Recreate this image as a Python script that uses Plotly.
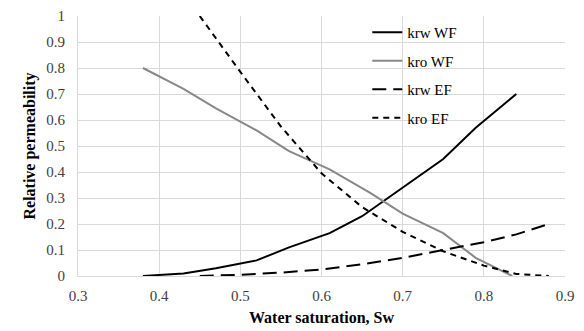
import plotly.graph_objects as go

sw_wf = [0.38, 0.43, 0.47, 0.52, 0.56, 0.61, 0.65, 0.70, 0.75, 0.79, 0.84]
krw_wf = [0.0, 0.01, 0.03, 0.06, 0.11, 0.165, 0.23, 0.34, 0.45, 0.57, 0.70]
sw_wf2 = [0.38, 0.43, 0.47, 0.52, 0.56, 0.61, 0.66, 0.70, 0.75, 0.79, 0.835]
kro_wf = [0.80, 0.72, 0.645, 0.56, 0.48, 0.41, 0.32, 0.24, 0.165, 0.07, 0.0]

sw_ef = [0.45, 0.50, 0.55, 0.60, 0.65, 0.70, 0.75, 0.80, 0.84, 0.88]
krw_ef = [0.0, 0.005, 0.013, 0.025, 0.045, 0.07, 0.10, 0.13, 0.16, 0.20]
kro_ef = [1.0, 0.785, 0.575, 0.395, 0.265, 0.17, 0.095, 0.04, 0.008, 0.0]

FAM = "Liberation Serif"

fig = go.Figure()
fig.add_trace(go.Scatter(x=sw_wf, y=krw_wf, mode="lines", name="krw WF", legendgroup="a",
                         line=dict(color="black", width=2)))
fig.add_trace(go.Scatter(x=sw_wf2, y=kro_wf, mode="lines", name="kro WF", legendgroup="b",
                         line=dict(color="#888888", width=2)))
fig.add_trace(go.Scatter(x=sw_ef, y=krw_ef, mode="lines", name="krw EF", legendgroup="c",
                         line=dict(color="black", width=2, dash="14px,7px")))
fig.add_trace(go.Scatter(x=sw_ef, y=kro_ef, mode="lines", name="kro EF", legendgroup="d",
                         line=dict(color="black", width=2, dash="6px,5px")))

fig.update_layout(
    width=584, height=331,
    margin=dict(l=78, r=19, t=16, b=55, autoexpand=False),
    paper_bgcolor="white", plot_bgcolor="white",
    font=dict(family=FAM, size=15, color="#404040"),
    showlegend=True,
    legend=dict(x=0.594, y=1.0, xanchor="left", yanchor="top",
                bgcolor="rgba(0,0,0,0)", font=dict(family=FAM, size=15, color="black"),
                tracegroupgap=6, itemwidth=30),
    xaxis=dict(range=[0.3, 0.9], dtick=0.1, tick0=0.3, showgrid=True, gridcolor="#d9d9d9",
               gridwidth=1, zeroline=False, showline=True, linecolor="#d9d9d9", mirror=False,
               ticks="", tickformat=".1f", ticklabelstandoff=6, automargin=False,
               tickfont=dict(family=FAM, size=15, color="#404040"),
               title=dict(text="<b>Water saturation, Sw</b>", font=dict(family=FAM, size=16, color="black"), standoff=8)),
    yaxis=dict(range=[0, 1], showgrid=True, gridcolor="#d9d9d9", gridwidth=1,
               zeroline=False, showline=True, linecolor="#d9d9d9", ticks="", ticklabelstandoff=9,
               automargin=False,
               tickfont=dict(family=FAM, size=15, color="#404040"),
               tickvals=[0, 0.1, 0.2, 0.3, 0.4, 0.5, 0.6, 0.7, 0.8, 0.9, 1],
               ticktext=["0", "0.1", "0.2", "0.3", "0.4", "0.5", "0.6", "0.7", "0.8", "0.9", "1"],
               title=dict(text="<b>Relative permeability</b>", font=dict(family=FAM, size=16, color="black"), standoff=6)),
)
fig.write_html("out.html")
